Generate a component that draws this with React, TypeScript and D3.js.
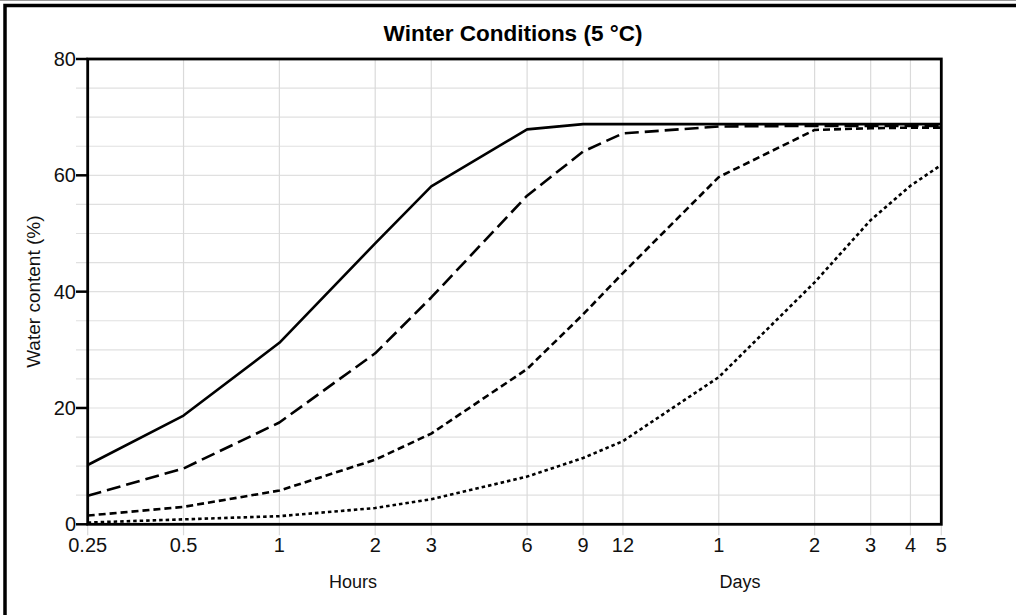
import React from "react";
import * as d3 from "d3";

const hoursX = [0.25, 0.5, 1, 2, 3, 6, 9, 12, 24, 48, 72, 96, 120];
const tickValues = [0.25, 0.5, 1, 2, 3, 6, 9, 12, 24, 48, 72, 96, 120];
const tickLabels = ["0.25", "0.5", "1", "2", "3", "6", "9", "12", "1", "2", "3", "4", "5"];
const seriesA = [10.2, 18.7, 31.2, 48.3, 58.1, 67.9, 68.8, 68.8, 68.8, 68.8, 68.8, 68.8, 68.8];
const seriesB = [4.9, 9.6, 17.5, 29.4, 39.0, 56.5, 64.1, 67.2, 68.4, 68.5, 68.5, 68.5, 68.5];
const seriesC = [1.5, 3.0, 5.8, 11.1, 15.6, 26.7, 36.1, 43.2, 59.7, 67.8, 68.1, 68.2, 68.2];
const seriesD = [0.3, 0.85, 1.4, 2.8, 4.3, 8.2, 11.4, 14.3, 25.3, 41.6, 52.3, 58.2, 61.8];
const yMajor = [0, 20, 40, 60, 80];
const yMinor = d3.range(0, 81, 5);

const seriesList = [
  { name: "A", values: seriesA, dash: "none" },
  { name: "B", values: seriesB, dash: "14,6" },
  { name: "C", values: seriesC, dash: "7,4" },
  { name: "D", values: seriesD, dash: "3.5,3" },
];

export default function App() {
  const x = d3.scaleLog().domain([0.25, 120]).range([87.7, 941.3]);
  const y = d3.scaleLinear().domain([0, 80]).range([524.3, 59]);
  const line = d3
    .line<number>()
    .x((_, i) => x(hoursX[i]))
    .y((d) => y(d));
  const font = "'Liberation Sans', Arial, sans-serif";
  return (
    <svg
      width={1016}
      height={615}
      style={{ position: "absolute", left: 0, top: 0, background: "#fff" }}
      fontFamily={font}
    >
      <rect x={0} y={0} width={1016} height={615} fill="#fff" />
      <line x1={0} x2={1016} y1={0.5} y2={0.5} stroke="#999" strokeWidth={1} />
      <rect x={5} y={5.5} width={1030} height={640} fill="none" stroke="#000" strokeWidth={3.5} />
      {/* grid */}
      {yMinor.map((v) => (
        <line key={"gy" + v} x1={76} x2={x(120)} y1={y(v)} y2={y(v)} stroke="#e0e0e0" strokeWidth={1.2} />
      ))}
      {tickValues.map((v) => (
        <line key={"gx" + v} x1={x(v)} x2={x(v)} y1={y(80)} y2={y(0) + 11} stroke="#dadada" strokeWidth={1.2} />
      ))}
      {/* series */}
      {seriesList.map((s) => (
        <path
          key={s.name}
          d={line(s.values) || ""}
          fill="none"
          stroke="#000"
          strokeWidth={2.6}
          strokeDasharray={s.dash}
          strokeLinejoin="round"
        />
      ))}
      {/* frame */}
      <rect x={x(0.25)} y={y(80)} width={x(120) - x(0.25)} height={y(0) - y(80)} fill="none" stroke="#000" strokeWidth={2.8} />
      {/* y ticks */}
      {yMajor.map((v) => (
        <g key={"yt" + v}>
          <line x1={76} x2={x(0.25)} y1={y(v)} y2={y(v)} stroke="#000" strokeWidth={2.5} />
          <text x={76} y={y(v)} dy="0.35em" textAnchor="end" fontSize={20} fill="#111">
            {v}
          </text>
        </g>
      ))}
      {/* x tick labels */}
      {tickValues.map((v, i) => (
        <text key={"xt" + i} x={x(v)} y={552} textAnchor="middle" fontSize={20} fill="#111">
          {tickLabels[i]}
        </text>
      ))}
      <text x={353} y={588} textAnchor="middle" fontSize={18} fill="#111">Hours</text>
      <text x={740} y={588} textAnchor="middle" fontSize={18} fill="#111">Days</text>
      <text
        transform={`translate(40,${(y(0) + y(80)) / 2}) rotate(-90)`}
        textAnchor="middle"
        fontSize={19}
        fill="#111"
      >
        Water content (%)
      </text>
      <text x={513} y={41} textAnchor="middle" fontSize={22.5} fontWeight="bold" fill="#000">
        Winter Conditions (5 °C)
      </text>
    </svg>
  );
}
